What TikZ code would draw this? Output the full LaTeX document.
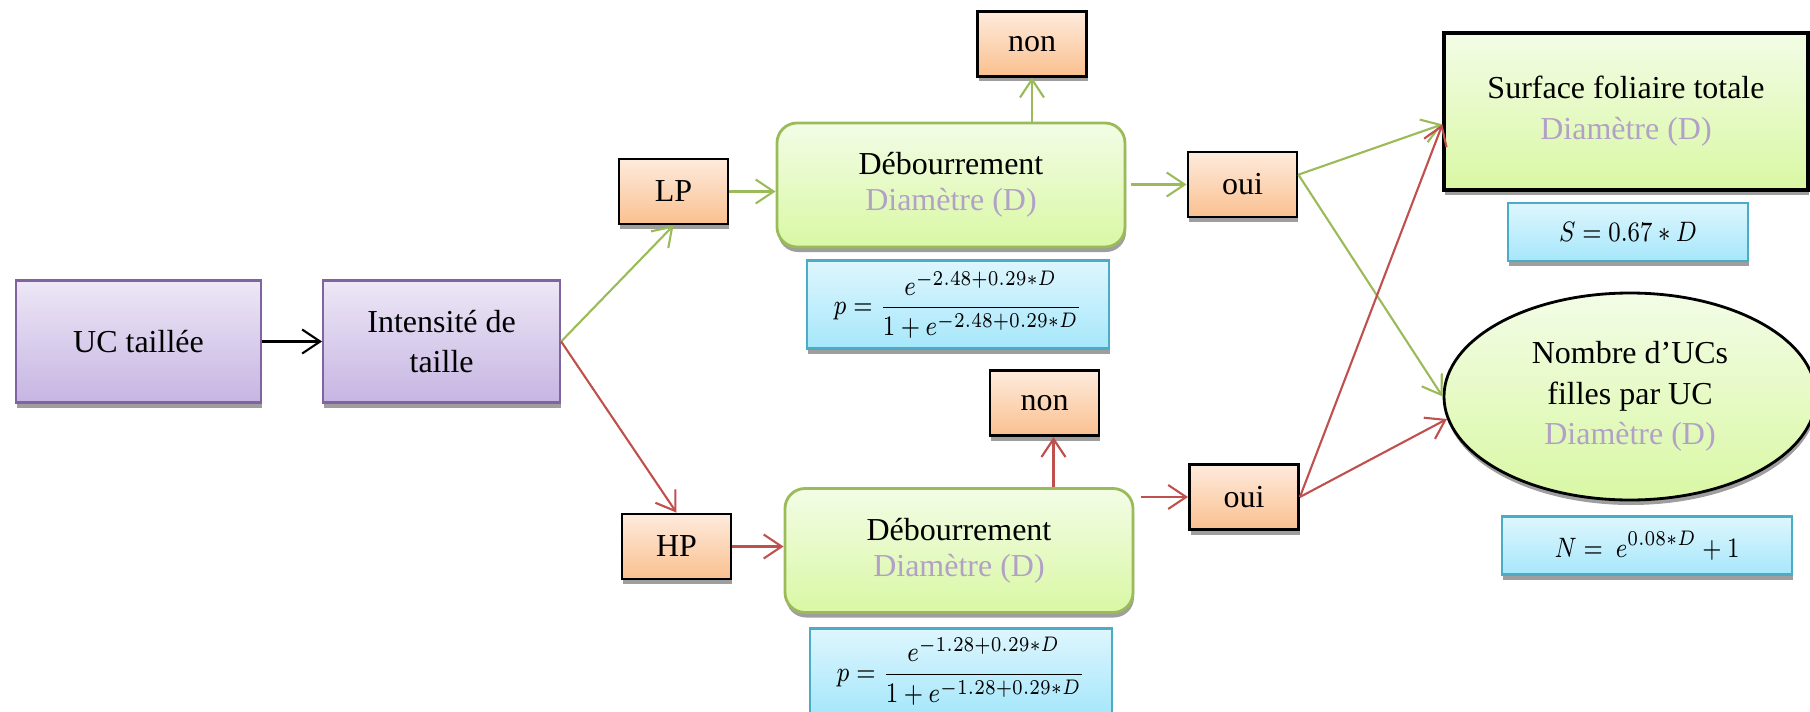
\documentclass[tikz,border=0pt]{standalone}
\usepackage{graphicx}
\usepackage{fontspec}
\setmainfont{Liberation Serif}
\usetikzlibrary{arrows.meta, positioning, shapes.geometric, shadows}

\definecolor{purpd}{HTML}{8064A2}
\definecolor{purpt}{HTML}{EDE7F6}
\definecolor{purpb}{HTML}{C6B5E2}
\definecolor{orgt}{HTML}{FEEBDD}
\definecolor{orgb}{HTML}{FAC08F}
\definecolor{grnd}{HTML}{9BBB59}
\definecolor{grnt}{HTML}{F3FCE6}
\definecolor{grnb}{HTML}{D9F8A4}
\definecolor{blud}{HTML}{4BACC6}
\definecolor{blut}{HTML}{DEF6FD}
\definecolor{blub}{HTML}{A6E7FB}
\definecolor{redd}{HTML}{C0504D}
\definecolor{diamc}{HTML}{B2A1C7}

\newcommand{\diam}{\textcolor{diamc}{Diamètre (D)}}
\newcommand{\eqtxt}[1]{\scalebox{0.83}[1]{$\displaystyle #1$}}

\begin{document}
\begin{tikzpicture}[
  x=0.1mm, y=-0.1mm,
  font=\fontsize{9.1}{11.6}\selectfont,
  shad/.style  ={drop shadow={shadow xshift=0.1mm, shadow yshift=-0.5mm,
                 fill=black!38, opacity=1}},
  cause/.style ={rectangle, draw=purpd, line width=0.6pt, top color=purpt,
                 bottom color=purpb, align=center, minimum height=12.2mm,
                 inner sep=0pt, shad},
  choice/.style={rectangle, draw=black, line width=0.8pt, top color=orgt,
                 bottom color=orgb, minimum width=10.9mm, minimum height=6.5mm,
                 inner sep=0pt, shad},
  stage/.style ={rectangle, rounded corners=2mm, draw=grnd, line width=0.8pt,
                 top color=grnt, bottom color=grnb, align=center,
                 font=\fontsize{9.1}{10.2}\selectfont,
                 minimum width=34.8mm, minimum height=12.4mm, inner sep=0pt, shad},
  eqn/.style   ={rectangle, draw=blud, line width=0.8pt, top color=blut,
                 bottom color=blub, minimum width=30.2mm, minimum height=8.8mm,
                 font=\fontsize{8.4}{10}\selectfont, inner sep=0pt, shad},
  outbox/.style={rectangle, draw=black, line width=0.9pt, top color=grnt,
                 bottom color=grnb, align=center, minimum width=36.4mm,
                 minimum height=15.7mm, inner sep=0pt, shad},
  outell/.style={ellipse, draw=black, line width=0.8pt, top color=grnt,
                 bottom color=grnb, align=center, minimum width=37.2mm,
                 minimum height=20.7mm, inner sep=0pt, shad},
  flow/.style  ={-{Straight Barb[length=1.8mm, width=2.4mm]}, line width=0.6pt, draw=black},
  gflow/.style ={-{Straight Barb[length=1.8mm, width=2.4mm]}, line width=0.6pt, draw=grnd},
  rflow/.style ={-{Straight Barb[length=1.8mm, width=2.4mm]}, line width=0.6pt, draw=redd},
]
\useasboundingbox (0,0) rectangle (1810,712);

% ---- pruned unit ----
\node[cause, minimum width=24.5mm]             (uc)  at (138.5,341.5) {UC taillée};
\node[cause, minimum width=23.7mm, right=6mm of uc] (int) {Intensité de\\taille};

% ---- pruning level ----
\node[choice] (lp) at (673.5,191.5) {LP};
\node[choice] (hp) at (676.5,546.5) {HP};

% ---- budburst ----
\node[stage] (debT) at (951,185)   {Débourrement\\\diam};
\node[stage] (debB) at (959,550.5) {Débourrement\\\diam};

\node[eqn, below=1.1mm of debT, xshift=0.7mm] (eqT)
  {\eqtxt{p=\frac{e^{-2.48+0.29*D}}{1+e^{-2.48+0.29*D}}}};
\node[eqn, below=1.3mm of debB, xshift=0.2mm, minimum height=8.6mm] (eqB)
  {\eqtxt{p=\frac{e^{-1.28+0.29*D}}{1+e^{-1.28+0.29*D}}}};

\node[choice, above=4.4mm of debT, xshift=8.1mm]  (nonT) {non};
\node[choice, above=5mm of debB, xshift=8.55mm]   (nonB) {non};
\node[choice] (ouiT) at (1242.5,184.5) {oui};
\node[choice] (ouiB) at (1244,497)     {oui};

% ---- outputs ----
\node[outbox] (surf) at (1626,111.5) {Surface foliaire totale\\\diam};
\node[eqn, below=1mm of surf, xshift=0.2mm, minimum width=24mm, minimum height=5.8mm] (eqS)
  {\eqtxt{S = 0.67 * D}};
\node[outell] (nb) at (1630,396.5) {Nombre d’UCs\\filles par UC\\\diam};
\node[eqn, below=1.4mm of nb, xshift=1.7mm, minimum width=29mm, minimum height=5.8mm] (eqN)
  {\eqtxt{N =\ e^{0.08*D} + 1}};

% ---- main flow ----
\draw[flow]  (uc) -- (int);
\draw[gflow] (int.east) -- (lp.south);
\draw[rflow] (int.east) -- (hp.north);
\draw[gflow] (lp.east) -- (lp.east -| debT.west);
\draw[rflow] (hp.east) -- (hp.east -| debB.west);

% ---- budburst yes / no ----
\draw[gflow] (nonT.south |- debT.north) -- (nonT);
\draw[gflow, shorten <=0.5mm] (debT.east |- ouiT) -- (ouiT);
\draw[rflow] ([xshift=0.9mm]nonB.south |- debB.north) -- ([xshift=0.9mm]nonB.south);
\draw[rflow, shorten <=0.7mm] (debB.east |- ouiB) -- (ouiB);

% ---- to outputs ----
\draw[gflow] (ouiT.10) -- (surf.184);
\draw[gflow] (ouiT.10) -- (nb.west);
\draw[rflow] (ouiB.east) -- (surf.184);
\draw[rflow] (ouiB.east) -- (nb.187);

\end{tikzpicture}
\end{document}
